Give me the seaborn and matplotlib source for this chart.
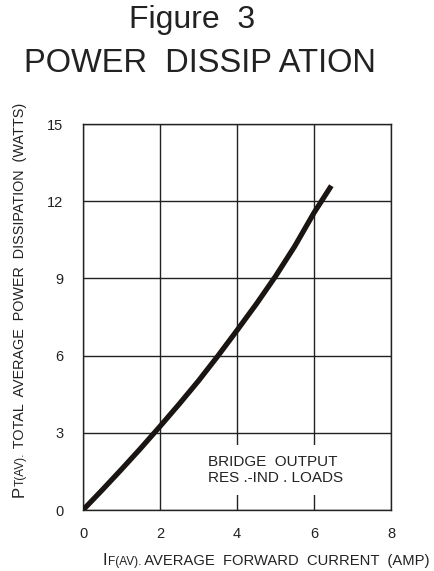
import matplotlib
matplotlib.use("Agg")
import matplotlib.pyplot as plt
import seaborn as sns
import pandas as pd

# Data
current_amp = [0, 0.5, 1, 1.5, 2, 2.5, 3, 3.5, 4, 4.5, 5, 5.5, 6, 6.45]
power_watts = [0, 0.78, 1.58, 2.4, 3.25, 4.12, 5.02, 5.98, 6.98, 8.0, 9.08, 10.25, 11.55, 12.6]
x_ticks = [0, 2, 4, 6, 8]
y_ticks = [0, 3, 6, 9, 12, 15]

sns.set_style("white")
plt.rcParams['font.family'] = ['Liberation Sans', 'DejaVu Sans']

W, H = 435, 571
TXT = "#222222"

df = pd.DataFrame({"I": current_amp, "P": power_watts})

fig = plt.figure(figsize=(W/100, H/100), dpi=100)
ax = fig.add_axes([83/W, 61/H, 308/W, 386/H])

sns.lineplot(data=df, x="I", y="P", ax=ax, color="#1a1512", linewidth=3.8,
             solid_capstyle="butt", solid_joinstyle="round", zorder=3)

ax.set_xlim(0, 8)
ax.set_ylim(0, 15)
ax.set_xticks(x_ticks)
ax.set_yticks(y_ticks)
ax.set_xticklabels([str(v) for v in x_ticks])
ax.set_yticklabels([str(v) for v in y_ticks])
ax.tick_params(axis="both", length=0, labelsize=10.5, colors=TXT)
ax.tick_params(axis="y", pad=14)
ax.tick_params(axis="x", pad=12)
ax.grid(True, color=TXT, linewidth=1.0)
for s in ax.spines.values():
    s.set_color(TXT)
    s.set_linewidth(1.0)
ax.set_xlabel("")
ax.set_ylabel("")

ax.text(3.25, 2.15, "BRIDGE  OUTPUT\nRES .-IND . LOADS", fontsize=11,
        color=TXT, ha="left", va="top", linespacing=1.2, zorder=2,
        bbox=dict(facecolor="white", edgecolor="none", pad=7))

# Titles
fig.text(192/W, 1 - 28/H, "Figure  3", fontsize=23, ha="center",
         va="baseline", color=TXT)
fig.text(200/W, 1 - 72/H, "POWER  DISSIP ATION", fontsize=23.5, ha="center",
         va="baseline", color=TXT)

# X label (large initial letter + small letters on same baseline)
xb = 1 - 565/H
tI = fig.text(103/W, xb, "I", fontsize=12, ha="left", va="baseline", color=TXT)
fig.canvas.draw()
x1 = tI.get_window_extent().x1
tF = fig.text(x1/W, xb, "F(AV).", fontsize=8.6, ha="left", va="baseline", color=TXT)
fig.canvas.draw()
x2 = tF.get_window_extent().x1
fig.text(x2/W, xb, " AVERAGE  FORWARD  CURRENT  (AMP)", fontsize=10.6,
         ha="left", va="baseline", color=TXT)

# Y label (rotated)
yb = 24/W
tP = fig.text(yb, 74/H, "P", fontsize=12, rotation=90, rotation_mode="anchor",
              ha="left", va="baseline", color=TXT)
fig.canvas.draw()
y1 = tP.get_window_extent().y1
tT = fig.text(yb, y1/H, "T(AV).", fontsize=8.6, rotation=90, rotation_mode="anchor",
              ha="left", va="baseline", color=TXT)
fig.canvas.draw()
y2 = tT.get_window_extent().y1
fig.text(yb, y2/H, " TOTAL  AVERAGE  POWER  DISSIPATION  (WATTS)", fontsize=10.4,
         rotation=90, rotation_mode="anchor", ha="left", va="baseline", color=TXT)

fig.savefig("out.png", dpi=100)
